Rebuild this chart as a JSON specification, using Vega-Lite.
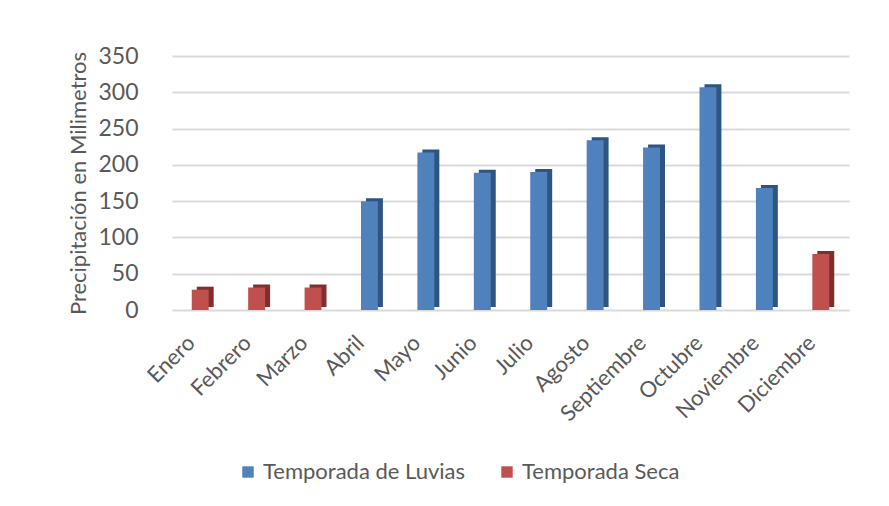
{
  "$schema": "https://vega.github.io/schema/vega-lite/v6.json",
  "width": 677,
  "height": 254,
  "autosize": {"type": "none"},
  "padding": {"left": 172, "top": 56, "right": 40, "bottom": 196},
  "background": "white",
  "config": {
    "view": {"stroke": null},
    "font": "Lato",
    "axis": {"labelColor": "#595959", "titleColor": "#595959", "labelFont": "Lato", "titleFont": "Lato"},
    "legend": {"labelColor": "#595959", "labelFont": "Lato"}
  },
  "data": {
    "values": [
      {"mes": "Enero", "mm": 28, "temporada": "Temporada Seca"},
      {"mes": "Febrero", "mm": 31, "temporada": "Temporada Seca"},
      {"mes": "Marzo", "mm": 31, "temporada": "Temporada Seca"},
      {"mes": "Abril", "mm": 150, "temporada": "Temporada de Luvias"},
      {"mes": "Mayo", "mm": 217, "temporada": "Temporada de Luvias"},
      {"mes": "Junio", "mm": 189, "temporada": "Temporada de Luvias"},
      {"mes": "Julio", "mm": 190, "temporada": "Temporada de Luvias"},
      {"mes": "Agosto", "mm": 234, "temporada": "Temporada de Luvias"},
      {"mes": "Septiembre", "mm": 224, "temporada": "Temporada de Luvias"},
      {"mes": "Octubre", "mm": 307, "temporada": "Temporada de Luvias"},
      {"mes": "Noviembre", "mm": 168, "temporada": "Temporada de Luvias"},
      {"mes": "Diciembre", "mm": 77, "temporada": "Temporada Seca"}
    ]
  },
  "encoding": {
    "x": {
      "field": "mes", "type": "nominal", "sort": null, "title": null,
      "scale": {"paddingInner": 0.7, "paddingOuter": 0.35},
      "axis": {"labelAngle": -45, "domain": false, "ticks": false, "labelFontSize": 22, "labelPadding": 22, "labelOffset": -16}
    },
    "y": {
      "field": "mm", "type": "quantitative",
      "title": "Precipitación en Milimetros",
      "scale": {"domain": [0, 350], "nice": false},
      "axis": {
        "values": [0, 50, 100, 150, 200, 250, 300, 350],
        "domain": false, "ticks": false,
        "gridColor": "#D9D9D9", "gridWidth": 2,
        "labelFontSize": 23, "labelPadding": 34,
        "titleFontSize": 22, "titleFontWeight": "normal", "titlePadding": 7
      }
    }
  },
  "layer": [
    {
      "mark": {"type": "bar", "xOffset": 5, "yOffset": -3},
      "encoding": {
        "color": {
          "field": "temporada", "type": "nominal",
          "scale": {"domain": ["Temporada de Luvias", "Temporada Seca"], "range": ["#2E5481", "#7F2F2D"]},
          "legend": null
        }
      }
    },
    {
      "mark": {"type": "bar"},
      "encoding": {
        "color": {
          "field": "temporada", "type": "nominal",
          "scale": {"domain": ["Temporada de Luvias", "Temporada Seca"], "range": ["#4F81BD", "#C0504D"]},
          "legend": {
            "title": null, "orient": "none", "direction": "horizontal",
            "legendX": 65, "legendY": 405,
            "symbolType": "square", "symbolSize": 130, "symbolStrokeWidth": 0,
            "labelFontSize": 22, "labelLimit": 400, "columnPadding": 30, "labelOffset": 4
          }
        }
      }
    }
  ],
  "resolve": {"scale": {"color": "independent"}}
}
